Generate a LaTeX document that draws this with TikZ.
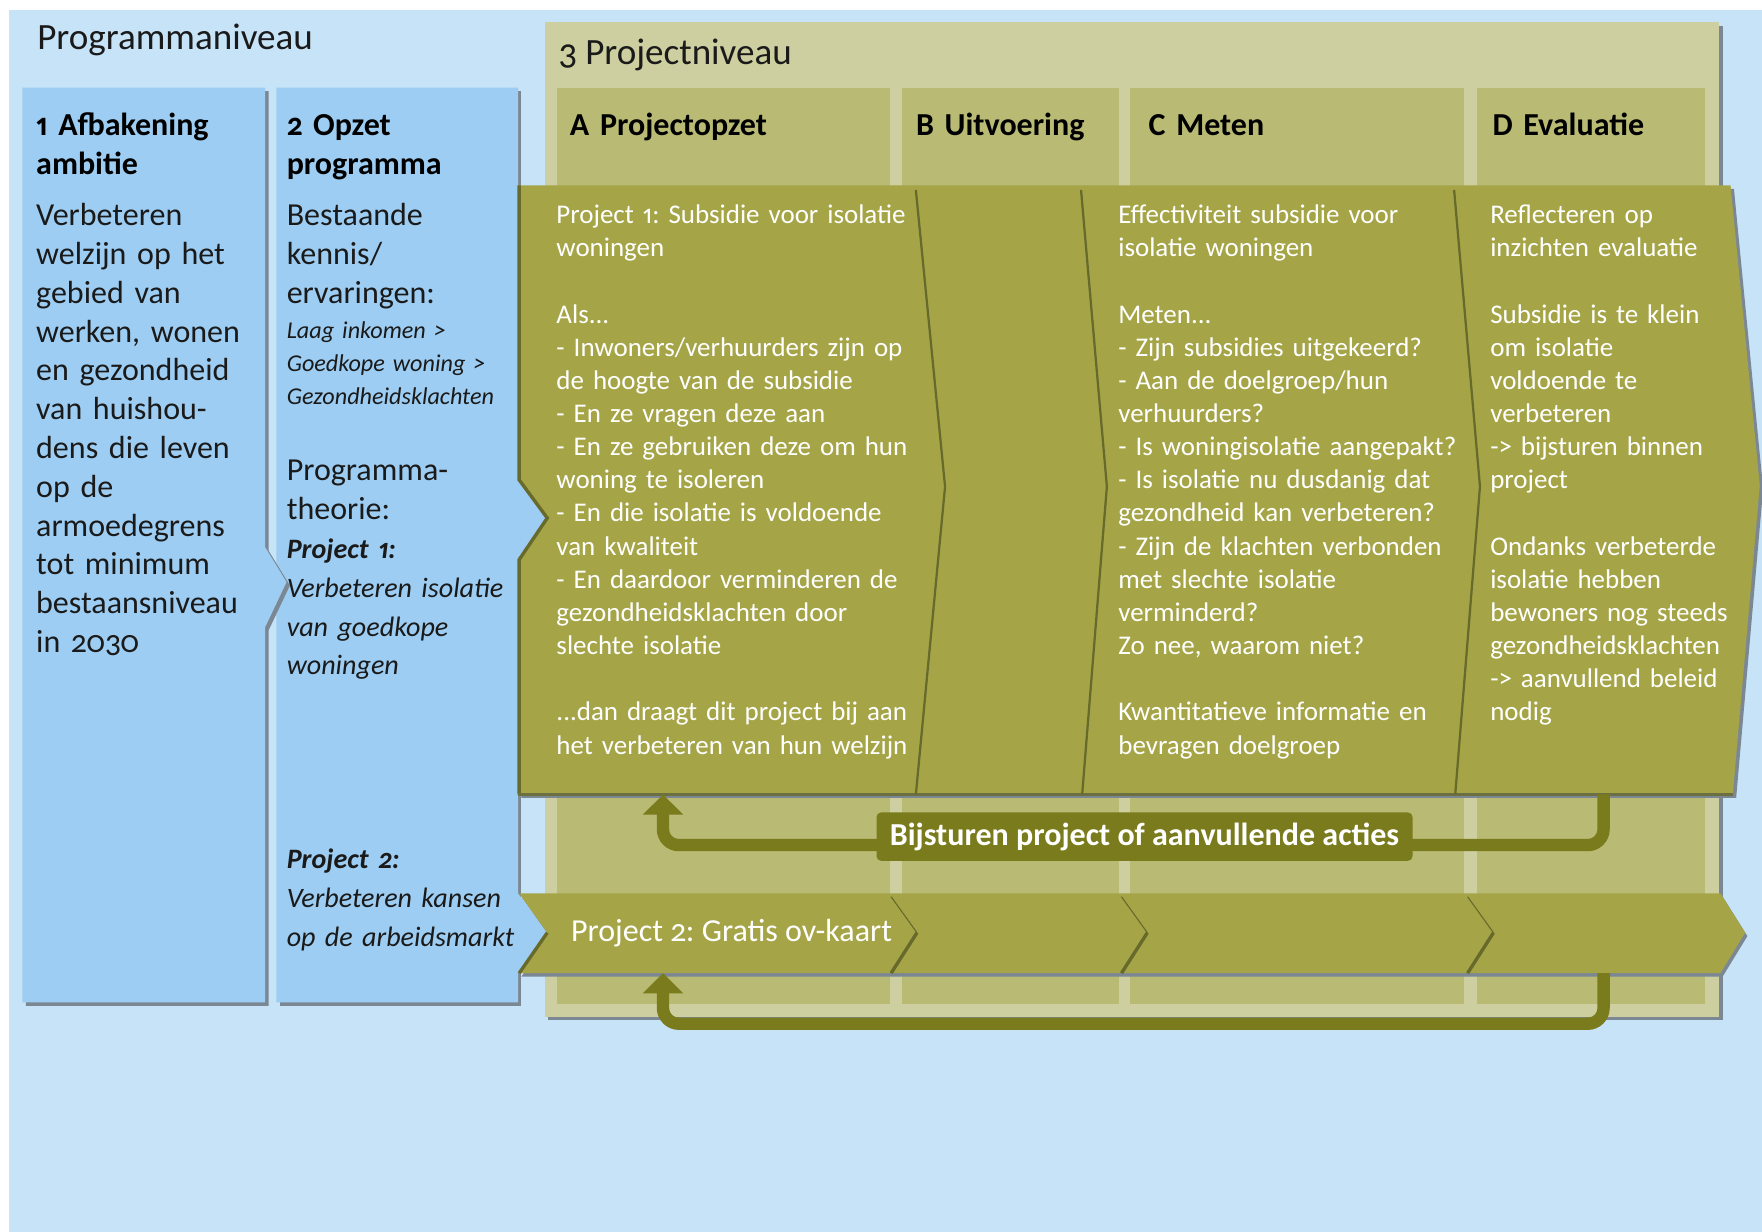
\documentclass[tikz,border=0pt]{standalone}
\usepackage{fontspec}
\setmainfont{Carlito}[Numbers={OldStyle,Proportional}]
\usetikzlibrary{arrows.meta}
\frenchspacing

\definecolor{bgblue}{HTML}{C7E3F8}
\definecolor{colblue}{HTML}{9DCDF2}
\definecolor{dropgray}{HTML}{7B8894}
\definecolor{projbox}{HTML}{CDCFA0}
\definecolor{phase}{HTML}{B9BB74}
\definecolor{olive}{HTML}{A5A548}
\definecolor{darkolive}{HTML}{7A7B1C}
\definecolor{edgeolive}{HTML}{686A2C}
\definecolor{inktext}{HTML}{1A1A1A}

\tikzset{
	titletext/.style={anchor=base west, inner sep=0pt, text=inktext, font=\fontsize{33}{38}\selectfont},
	headtext/.style={anchor=base west, inner sep=0pt, align=left, text width=300pt, text=black, font=\bfseries\fontsize{28.5}{34.5}\selectfont},
	bodytext/.style={anchor=base west, inner sep=0pt, align=left, text width=300pt, text=inktext, font=\fontsize{28.5}{34.5}\selectfont},
	italtext/.style={anchor=base west, inner sep=0pt, align=left, text width=300pt, text=inktext, font=\itshape\fontsize{25}{34.5}\selectfont},
	smalltext/.style={anchor=base west, inner sep=0pt, align=left, text width=300pt, text=inktext, font=\itshape\fontsize{21.5}{29.5}\selectfont},
	whitetext/.style={anchor=base west, inner sep=0pt, align=left, text width=400pt, text=white, font=\fontsize{24}{29.5}\selectfont},
	loopline/.style={line width=11pt, color=darkolive, rounded corners=14pt, -{Triangle[width=35pt,length=18pt]}},
	chevline/.style={line width=2pt, color=edgeolive, line join=round}
}

\begin{document}
\begin{tikzpicture}[x=1pt,y=-1pt]
	%%%%% START %%%%%
	\useasboundingbox (0,0) rectangle (1568,1096);
	\fill[white] (0,0) rectangle (1568,1096);
	\fill[bgblue] (8,9) rectangle (1568,1096);
	
	\node[titletext] (progTitle) at (33,44) {Programmaniveau};
	
	% column 2, with notches into the project bands
	\fill[dropgray, shift={(3,3)}] (246,78) rectangle (461,892);
	\fill[colblue] (246,78) -- (461,78) -- (461,427) -- (486,461) -- (461,498) -- (461,795) -- (487,830) -- (461,866) -- (461,892) -- (246,892) -- cycle;
	
	% column 1
	\fill[dropgray, shift={(3,3)}] (20,78) -- (236,78) -- (236,487) -- (255,518) -- (236,558) -- (236,892) -- (20,892) -- cycle;
	\fill[colblue] (20,78) -- (236,78) -- (236,487) -- (255,518) -- (236,558) -- (236,892) -- (20,892) -- cycle;
	
	\node[headtext] (ambHead) at (32,121) {1 Afbakening\\ambitie};
	\node[bodytext] (ambText) at (32,201) {Verbeteren\\welzijn op het\\gebied van\\werken, wonen\\en gezondheid\\van huishou-\\dens die leven\\op de\\armoedegrens\\tot minimum\\bestaansniveau\\in 2030};
	
	\node[headtext] (progHead) at (255,121) {2 Opzet\\programma};
	\node[bodytext] (progKnow) at (255,201) {Bestaande\\kennis/\\ervaringen:};
	\node[smalltext] (progChain) at (255,301) {Laag inkomen >\\Goedkope woning >\\Gezondheidsklachten};
	\node[bodytext] (progTheory) at (255,428) {Programma-\\theorie:};
	\node[italtext] (progOne) at (255,497) {\textbf{Project 1:}\\Verbeteren isolatie\\van goedkope\\woningen};
	\node[italtext] (progTwo) at (255,773) {\textbf{Project 2:}\\Verbeteren kansen\\op de arbeidsmarkt};
	
	% project level
	\fill[dropgray, shift={(3,3)}] (485,20) rectangle (1530,905);
	\fill[projbox] (485,20) rectangle (1530,905);
	\node[titletext] (projTitle) at (497,57) {3 Projectniveau};
	
	\foreach \xa/\xb in {496/792, 803/996, 1006/1303, 1314/1517}
		\fill[phase] (\xa,78) rectangle (\xb,893);
	
	\node[headtext] (phaseA) at (507,121) {A Projectopzet};
	\node[headtext] (phaseB) at (815,121) {B Uitvoering};
	\node[headtext] (phaseC) at (1022,121) {C Meten};
	\node[headtext] (phaseD) at (1328,121) {D Evaluatie};
	
	% project 1 band
	\fill[dropgray, shift={(3,3)}] (461,165) -- (1540,165) -- (1566,432) -- (1542,707) -- (461,707) -- (461,498) -- (486,461) -- (461,427) -- cycle;
	\fill[olive] (461,165) -- (1540,165) -- (1566,432) -- (1542,707) -- (461,707) -- (461,498) -- (486,461) -- (461,427) -- cycle;
	\draw[line width=3pt, color=edgeolive] (462,165) -- (462,427) -- (487,461) -- (462,498) -- (462,707);
	\draw[line width=2.5pt, color=edgeolive!80!dropgray] (461,707) -- (1542,707);
	\draw[chevline] (815,169) -- (841,433) -- (815,707);
	\draw[chevline] (962,169) -- (985,433) -- (963,707);
	\draw[chevline] (1294,169) -- (1317,433) -- (1295,707);
	
	\coordinate (oneLeft) at (590,707);
	\coordinate (oneRight) at (1427,707);
	
	\node[whitetext] (oneSetup) at (495,199) {Project 1: Subsidie voor isolatie\\woningen\\[29.5pt]Als...\\- Inwoners/verhuurders zijn op\\de hoogte van de subsidie\\- En ze vragen deze aan\\- En ze gebruiken deze om hun\\woning te isoleren\\- En die isolatie is voldoende\\van kwaliteit\\- En daardoor verminderen de\\gezondheidsklachten door\\slechte isolatie\\[29.5pt]...dan draagt dit project bij aan\\het verbeteren van hun welzijn};
	\node[whitetext] (oneMeasure) at (995,199) {Effectiviteit subsidie voor\\isolatie woningen\\[29.5pt]Meten...\\- Zijn subsidies uitgekeerd?\\- Aan de doelgroep/hun\\verhuurders?\\- Is woningisolatie aangepakt?\\- Is isolatie nu dusdanig dat\\gezondheid kan verbeteren?\\- Zijn de klachten verbonden\\met slechte isolatie\\verminderd?\\Zo nee, waarom niet?\\[29.5pt]Kwantitatieve informatie en\\bevragen doelgroep};
	\node[whitetext] (oneEval) at (1326,199) {Reflecteren op\\inzichten evaluatie\\[29.5pt]Subsidie is te klein\\om isolatie\\voldoende te\\verbeteren\\-> bijsturen binnen\\project\\[29.5pt]Ondanks verbeterde\\isolatie hebben\\bewoners nog steeds\\gezondheidsklachten\\-> aanvullend beleid\\nodig};
	
	% feedback for project 1
	\draw[loopline] (oneRight) |- (1000,752) -| (oneLeft);
	\node[fill=darkolive, rounded corners=4pt, minimum width=477pt, minimum height=43pt, inner sep=0pt, text=white, font=\bfseries\fontsize{28.5}{32}\selectfont] (fbLabel) at (1018.5,744.5) {Bijsturen project of aanvullende acties};
	
	% project 2 band
	\fill[dropgray, shift={(2,3)}] (462,795) -- (1531,795) -- (1553,830) -- (1531,866) -- (462,866) -- (487,830) -- cycle;
	\fill[olive] (462,795) -- (1531,795) -- (1553,830) -- (1531,866) -- (462,866) -- (487,830) -- cycle;
	\draw[line width=3pt, color=edgeolive] (487,830) -- (462,866);
	\foreach \xc in {793, 998, 1306} {
		\draw[line width=1pt, color=edgeolive] (\xc,798) -- (\xc+23,830);
		\draw[line width=3pt, color=edgeolive] (\xc+23,830) -- (\xc,866);
	}
	\node[anchor=base west, inner sep=0pt, text=white, font=\fontsize{28.5}{32}\selectfont] (twoText) at (508,838) {Project 2: Gratis ov-kaart};
	
	\coordinate (twoLeft) at (590,866);
	\coordinate (twoRight) at (1427,866);
	
	% feedback for project 2
	\draw[loopline] (twoRight) |- (1000,911) -| (twoLeft);
	
	%%%%% END %%%%%
\end{tikzpicture}
\end{document}
